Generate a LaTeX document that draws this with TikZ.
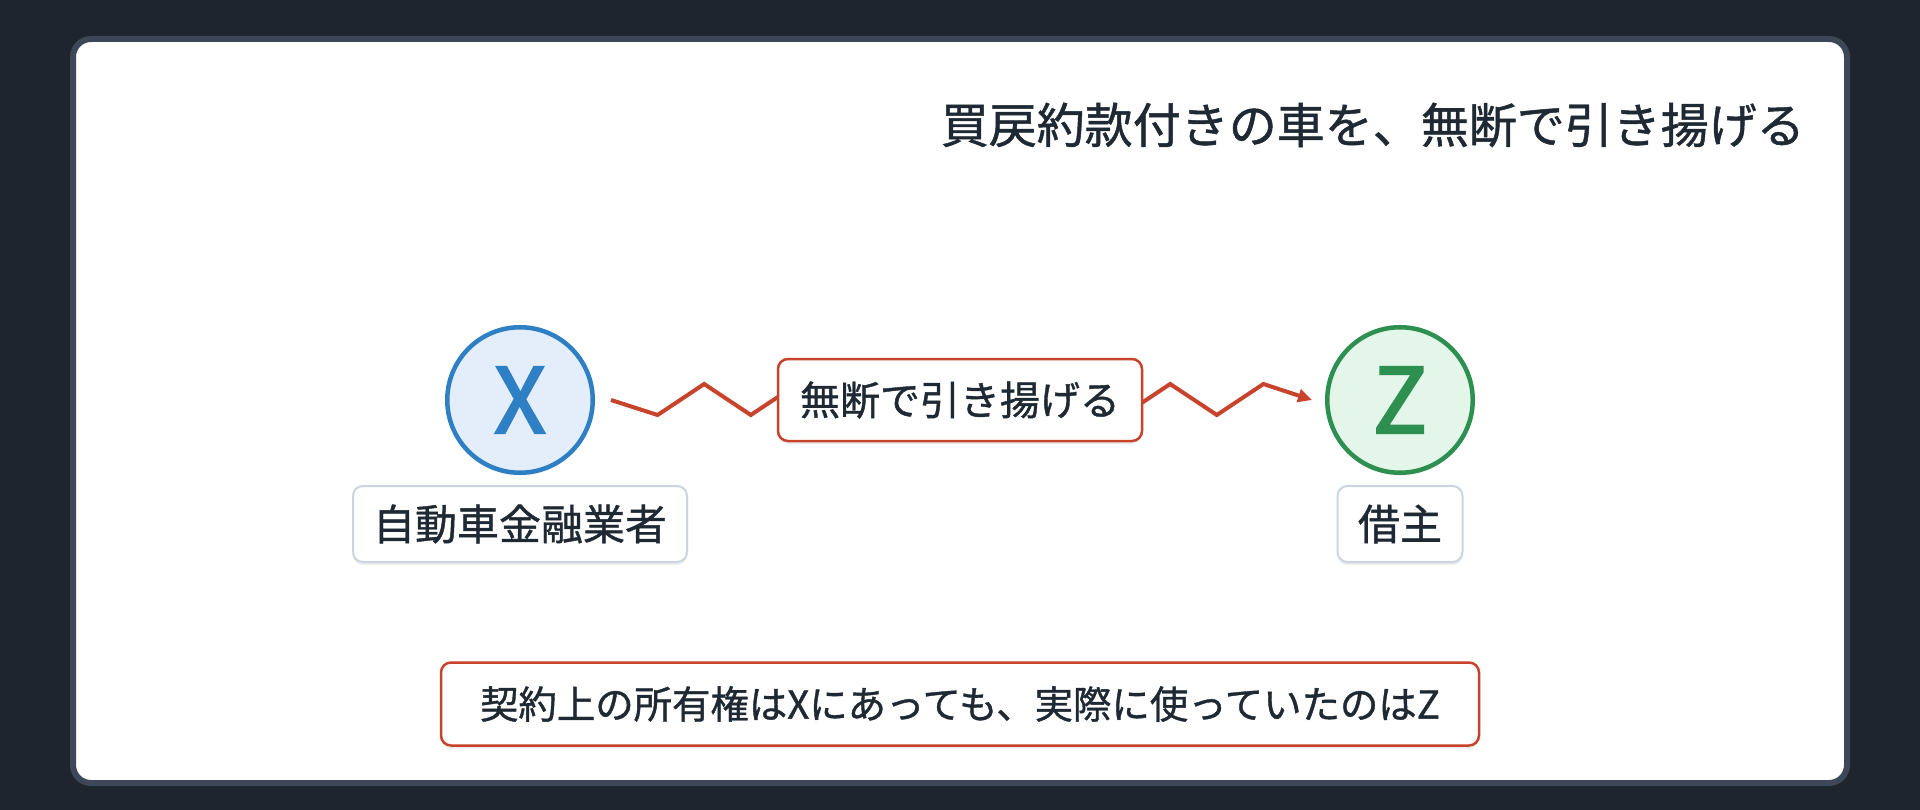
\documentclass[tikz,border=0pt]{standalone}
\usepackage{fontspec}
\setmainfont{Noto Sans CJK JP}[FakeBold=1]
\newfontfamily\letterfont{Noto Sans CJK JP}[FakeBold=2.6]
\usetikzlibrary{arrows.meta,shadows}
\definecolor{bgdark}{HTML}{1E252F}
\definecolor{cardline}{HTML}{3D4757}
\definecolor{ink}{HTML}{1F2933}
\definecolor{xblue}{HTML}{2F7FC4}
\definecolor{xbluefill}{HTML}{E4EEFA}
\definecolor{zgreen}{HTML}{2D8F50}
\definecolor{zgreenfill}{HTML}{E4F5E9}
\definecolor{zred}{HTML}{C8432B}
\definecolor{lblline}{HTML}{CBD5E1}
\tikzset{
  softshadow/.style={drop shadow={shadow xshift=0pt, shadow yshift=-3pt, opacity=0.07, fill=black}},
  party/.style={circle, line width=4.5pt, minimum size=145.5pt, inner sep=0pt,
    font=\letterfont\fontsize{90}{90}\selectfont, softshadow},
  namebox/.style={draw=lblline, fill=white, line width=2pt, rounded corners=10pt,
    inner sep=0pt, minimum height=76pt, text=ink, font=\fontsize{42}{42}\selectfont, softshadow},
  redbox/.style={draw=zred, fill=white, line width=2.5pt, rounded corners=10pt,
    inner sep=0pt, text=ink, softshadow},
  zz/.style={draw=zred, line width=4pt, -{Triangle[length=14pt,width=13pt]}}
}
\begin{document}
\begin{tikzpicture}[x=1pt,y=-1pt]
\useasboundingbox (0,0) rectangle (1920,810);
\fill[bgdark] (0,0) rectangle (1920,810);
\draw[cardline, fill=white, line width=6pt, rounded corners=18pt] (73,39) rectangle (1847,783);
\node[anchor=east, text=ink, inner sep=0pt, font=\fontsize{48}{48}\selectfont] (title) at (1805,125) {買戻約款付きの車を、無断で引き揚げる};
\node[party, draw=xblue, fill=xbluefill, text=xblue] (X) at (520,400) {X};
\node[party, draw=zgreen, fill=zgreenfill, text=zgreen] (Z) at (1400,400) {Z};
\node[namebox, minimum width=334pt] (xl) at (520,524) {自動車金融業者};
\node[namebox, minimum width=125pt] (zl) at (1400,524) {借主};
\draw[zz] ([xshift=16pt]X.east) -- ++(46.6,15) -- ++(46.6,-31) -- ++(46.6,31) -- ++(46.6,-31)
  -- ++(46.6,31) -- ++(46.6,-31) -- ++(46.6,31) -- ++(46.6,-31) -- ++(46.6,31) -- ++(46.6,-31)
  -- ++(46.6,31) -- ++(46.6,-31) -- ++(46.6,31) -- ++(46.6,-31) -- ([xshift=-13pt]Z.west);
\node[redbox, minimum width=364pt, minimum height=82pt, font=\fontsize{40}{40}\selectfont] (act) at (960,400) {無断で引き揚げる};
\node[redbox, minimum width=1038pt, minimum height=83pt, font=\fontsize{38.4}{38.4}\selectfont] (note) at (960,704) {契約上の所有権はXにあっても、実際に使っていたのはZ};
\end{tikzpicture}
\end{document}
